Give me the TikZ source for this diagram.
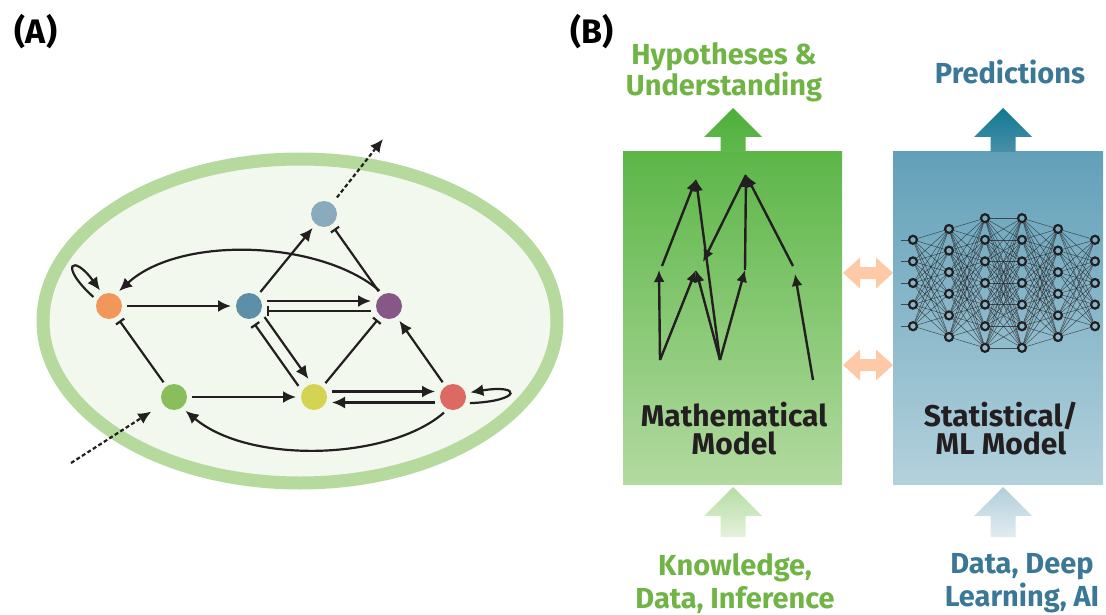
\documentclass[tikz,border=0pt]{standalone}
\usepackage{fontspec}
\setmainfont{Fira Sans}
\usetikzlibrary{arrows.meta}

\definecolor{ink}{HTML}{231F20}
\definecolor{cellrim}{HTML}{B6D99E}
\definecolor{cellfill}{HTML}{F3F8EE}
\definecolor{gOrange}{HTML}{F09759}
\definecolor{gTeal}{HTML}{5E8FA8}
\definecolor{gSky}{HTML}{8AABBE}
\definecolor{gPlum}{HTML}{875887}
\definecolor{gLeaf}{HTML}{89BE5D}
\definecolor{gLime}{HTML}{D5D352}
\definecolor{gRed}{HTML}{DC6A62}
\definecolor{boxGa}{HTML}{5DB648}
\definecolor{boxGb}{HTML}{B2DAA0}
\definecolor{boxBa}{HTML}{62A0B9}
\definecolor{boxBb}{HTML}{B3D1DC}
\definecolor{arrGa}{HTML}{4CAF3A}
\definecolor{arrGb}{HTML}{62B84D}
\definecolor{arrBa}{HTML}{107891}
\definecolor{arrBb}{HTML}{4990AA}
\definecolor{inGa}{HTML}{B5DDA3}
\definecolor{inGb}{HTML}{E4F2DC}
\definecolor{inBa}{HTML}{B2CEDA}
\definecolor{inBb}{HTML}{E1ECF1}
\definecolor{peach}{HTML}{FDC9A6}
\definecolor{txtG}{HTML}{70B446}
\definecolor{txtB}{HTML}{3A7896}

\tikzset{
  gene/.style={circle, minimum size=26pt, inner sep=0pt, outer sep=5pt},
  act/.style={line width=2.2pt, draw=ink, -{Latex[length=13pt,width=12pt]}},
  inh/.style={line width=2.2pt, draw=ink, -{Bar[width=10pt]}},
  flux/.style={act, dash pattern=on 4pt off 2.5pt},
  modelbox/.style={rectangle, inner sep=0pt, minimum height=332pt},
  neuron/.style={circle, draw=ink, line width=2.2pt, minimum size=8pt, inner sep=0pt},
  syn/.style={draw=ink, line width=0.5pt, opacity=0.7},
  panel/.style={font=\fontsize{34}{34}\selectfont\bfseries, inner sep=0pt},
  lbl/.style={font=\fontsize{29}{27}\selectfont\bfseries, align=center, inner sep=0pt}
}

\begin{document}
\begin{tikzpicture}[x=1pt,y=-1pt]
\useasboundingbox (0,0) rectangle (1106,615);

\node[panel] (labA) at (36,32) {(A)};
\node[panel] (labB) at (592,32) {(B)};

% panel A: the cell and its network
\draw[line width=13pt, draw=cellrim, fill=cellfill] (300,321) ellipse [x radius=257pt, y radius=162pt];

\node[gene, fill=gOrange] (org) at (109,306) {};
\node[gene, fill=gTeal] (teal) at (249,306) {};
\node[gene, fill=gSky] (sky) at (324,214) {};
\node[gene, fill=gPlum] (plum) at (389,306) {};
\node[gene, fill=gLeaf] (leaf) at (174,397) {};
\node[gene, fill=gLime] (lime) at (314,397) {};
\node[gene, fill=gRed] (red) at (453,397) {};
\coordinate (skyout) at (383,139);
\coordinate (leafin) at (71,463);

\draw[act] (org) -- (teal);
\draw[act] (teal) -- (sky);
\draw[inh] (plum) -- (sky);
\draw[flux, shorten <=3pt] (sky.52) -- (skyout);
\draw[flux, shorten >=9pt] (leafin) -- (leaf);
\draw[act] ([yshift=5pt]teal.east) -- ([yshift=5pt]plum.west);
\draw[inh] ([yshift=-5pt]plum.west) -- ([yshift=-5pt]teal.east);
\draw[act] ([xshift=5pt,yshift=3.5pt]teal.-54) -- ([xshift=5pt,yshift=3.5pt]lime.126);
\draw[inh] ([xshift=-5pt,yshift=-3.5pt]lime.126) -- ([xshift=-5pt,yshift=-3.5pt]teal.-54);
\draw[inh] (leaf) -- (org);
\draw[act] (leaf) -- (lime);
\draw[inh] (lime) -- (plum);
\draw[act] (red) -- (plum);
\draw[act] ([yshift=5.5pt]lime.east) -- ([yshift=5.5pt]red.west);
\draw[act] ([yshift=-5.5pt]red.west) -- ([yshift=-5.5pt]lime.east);
\draw[act] (plum.122) .. controls (320,240) and (180,235) .. (org.56);
\draw[act] (red.240) .. controls (390,460) and (250,465) .. (leaf.-50);
\draw[act] (org.150) .. controls (58,265) and (73,253) .. (org.120);
\draw[act] (red.-20) .. controls (522,401) and (522,384) .. (red.15);

% panel B: the two models
\node[modelbox, minimum width=219pt, top color=boxGa, bottom color=boxGb] (mathbox) at (732.5,318) {};
\node[modelbox, minimum width=210pt, top color=boxBa, bottom color=boxBb] (mlbox) at (998,318) {};

\foreach \cx/\tip/\bot/\ca/\cb in {733/108/152/arrGa/arrGb, 1003/108/152/arrBa/arrBb, 733/487/537/inGa/inGb, 1003/487/537/inBa/inBb}
  \shade[top color=\ca, bottom color=\cb] (\cx,\tip) -- (\cx+29,\tip+29) -- (\cx+12.5,\tip+29) -- (\cx+12.5,\bot)
    -- (\cx-12.5,\bot) -- (\cx-12.5,\tip+29) -- (\cx-29,\tip+29) -- cycle;

\foreach \yy in {273,365}
  \fill[peach] (843,\yy) -- ++(17,-15.5) -- ++(0,9.5) -- ++(16,0) -- ++(0,-9.5) -- ++(17,15.5)
    -- ++(-17,15.5) -- ++(0,-9.5) -- ++(-16,0) -- ++(0,9.5) -- cycle;

\node[lbl, text=txtG, anchor=north] (hypo) at (724,42) {Hypotheses \&\\Understanding};
\node[lbl, text=txtB, anchor=north] (pred) at (1010,60) {Predictions};
\node[lbl, text=txtG, anchor=north, font=\fontsize{29}{33}\selectfont\bfseries] (know) at (735,553) {Knowledge,\\Data, Inference};
\node[lbl, text=txtB, anchor=north, font=\fontsize{29}{33}\selectfont\bfseries] (deep) at (1022,553) {Data, Deep\\Learning, AI};
\node[lbl, text=ink, anchor=north, font=\fontsize{30}{28}\selectfont\bfseries] (mathtxt) at (734,402) {Mathematical\\Model};
\node[lbl, text=ink, anchor=north, font=\fontsize{30}{28}\selectfont\bfseries] (mltxt) at (1001,402) {Statistical/\\ML Model};

% mechanistic sketch
\foreach \n/\px/\py in {m1/660/360, m2/720/360, m3/813/380, t1/659/270, t2/696/270, t3/745/270, t4/795/274,
    s1/662/266, s2/793/266, p1/696/179, p2/746/175, q1/703/262}
  \coordinate (\n) at (\px,\py);
\foreach \a/\b in {m1/t1, m1/t2, m2/t2, m2/p1, m2/t3, m3/t4, s1/p1, t3/p2, p2/q1, s2/p2}
  \draw[line width=2.4pt, draw=ink, -{Latex[length=12pt,width=11pt]}] (\a) -- (\b);

% network
\foreach \l/\x/\n in {1/913/5, 2/949/6, 3/985/7, 4/1022/7, 5/1058/6, 6/1095/5}
  \foreach \k in {1,...,\n}
    \node[neuron] (n\l-\k) at (\x,{283+(\k-(\n+1)/2)*21.6}) {};
\foreach \l/\m/\na/\nb in {1/2/5/6, 2/3/6/7, 3/4/7/7, 4/5/7/6, 5/6/6/5}
  \foreach \i in {1,...,\na}
    \foreach \j in {1,...,\nb}
      \draw[syn] (n\l-\i) -- (n\m-\j);
\foreach \k in {1,...,5}
  \draw[syn] (n1-\k.west) -- ++(-7,0);

\end{tikzpicture}
\end{document}
